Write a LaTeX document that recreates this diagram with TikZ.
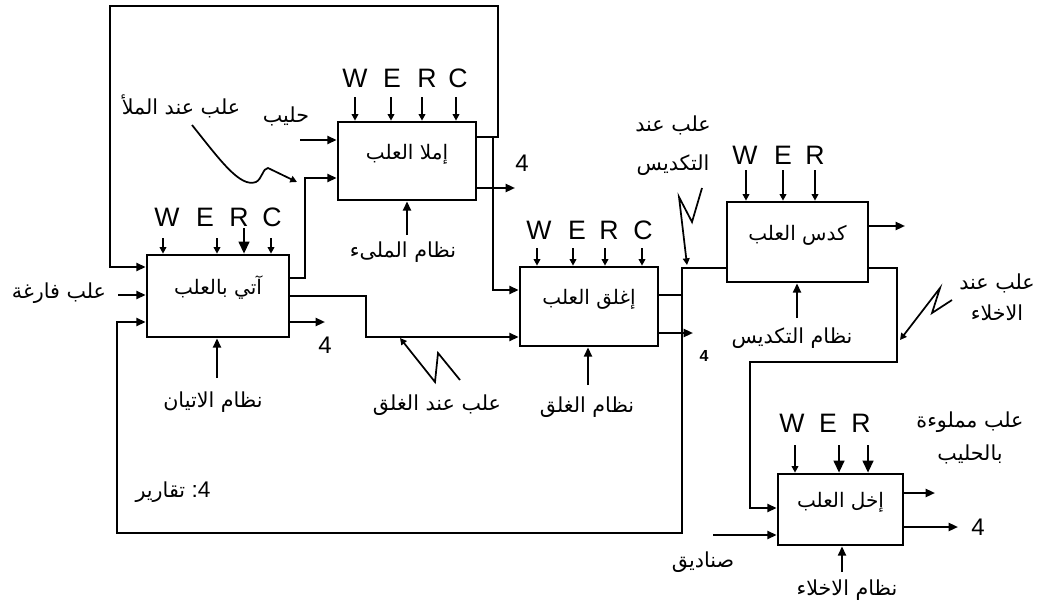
\documentclass[tikz,border=0pt]{standalone}
\usepackage{fontspec}
\setmainfont{Liberation Sans}
\newfontfamily\arabicfont[Script=Arabic]{DejaVu Sans}
\TeXXeTstate=1
\usetikzlibrary{arrows.meta,calc}
\newcommand{\ar}[1]{{\arabicfont\beginR #1\endR}}
\begin{document}
\begin{tikzpicture}[x=0.75pt,y=-0.75pt,
  box/.style={draw,line width=2pt,inner sep=0pt,text height=10pt,text depth=13pt,font=\arabicfont\fontsize{15}{17}\selectfont},
  ln/.style={line width=1.6pt},
  arr/.style={ln,-{Triangle[length=7pt,width=6pt]}},
  sarr/.style={ln,-{Triangle[length=5pt,width=5pt]}},
  barr/.style={ln,-{Triangle[length=9pt,width=8pt]}},
  letr/.style={font=\fontsize{20}{21}\selectfont,inner sep=0pt},
  lab/.style={font=\arabicfont\fontsize{15.5}{18}\selectfont,inner sep=0pt,align=center},
  num/.style={font=\fontsize{18}{20}\selectfont,inner sep=0pt}]
\useasboundingbox[fill=white] (0,0) rectangle (1041,610);

% boxes
\node[box,minimum width=106.5pt,minimum height=61.5pt] (A) at (218,296) {\beginR آتي بالعلب\endR};
\node[box,minimum width=103.5pt,minimum height=58.5pt] (B) at (407,161) {\beginR إملا العلب\endR};
\node[box,minimum width=103.5pt,minimum height=59.25pt] (C) at (589,306.5) {\beginR إغلق العلب\endR};
\node[box,minimum width=105.75pt,minimum height=60pt] (D) at (797.5,242) {\beginR كدس العلب\endR};
\node[box,minimum width=93.75pt,minimum height=53.25pt] (E) at (840.5,509.5) {\beginR إخل العلب\endR};

% W E R C of A
\node[letr] (Aw) at (167,217) {W};
\node[letr] (Ae) at (205,217) {E};
\node[letr] (Ar) at (239,217) {R};
\node[letr] (Ac) at (272,217) {C};
\coordinate (aw) at (163,238); \coordinate (ae) at (217,238);
\coordinate (ar) at (244,228); \coordinate (ac) at (271,238);
\draw[sarr] (aw) -- (aw |- A.north);
\draw[sarr] (ae) -- (ae |- A.north);
\draw[barr] (ar) -- (ar |- A.north);
\draw[sarr] (ac) -- (ac |- A.north);

% W E R C of B
\node[letr] (Bw) at (355,78) {W};
\node[letr] (Be) at (392,78) {E};
\node[letr] (Br) at (427,78) {R};
\node[letr] (Bc) at (458,78) {C};
\coordinate (bw) at (355,97); \coordinate (be) at (391,97);
\coordinate (br) at (422,97); \coordinate (bc) at (456,97);
\draw[sarr] (bw) -- (bw |- B.north);
\draw[sarr] (be) -- (be |- B.north);
\draw[sarr] (br) -- (br |- B.north);
\draw[sarr] (bc) -- (bc |- B.north);

% W E R C of C
\node[letr] (Cw) at (539,230) {W};
\node[letr] (Ce) at (577,230) {E};
\node[letr] (Cr) at (609,230) {R};
\node[letr] (Cc) at (643,230) {C};
\coordinate (cw) at (537,248); \coordinate (ce) at (573,248);
\coordinate (cr) at (605,248); \coordinate (cc) at (642,248);
\draw[sarr] (cw) -- (cw |- C.north);
\draw[sarr] (ce) -- (ce |- C.north);
\draw[sarr] (cr) -- (cr |- C.north);
\draw[sarr] (cc) -- (cc |- C.north);

% W E R of D
\node[letr] (Dw) at (745,155) {W};
\node[letr] (De) at (783,155) {E};
\node[letr] (Dr) at (815,155) {R};
\coordinate (dw) at (746,170); \coordinate (de) at (783,170); \coordinate (dr) at (815,170);
\draw[sarr] (dw) -- (dw |- D.north);
\draw[sarr] (de) -- (de |- D.north);
\draw[sarr] (dr) -- (dr |- D.north);

% W E R of E
\node[letr] (Ew) at (792,423) {W};
\node[letr] (Ee) at (828,423) {E};
\node[letr] (Er) at (861,423) {R};
\coordinate (ew) at (795,445); \coordinate (ee) at (839,445); \coordinate (er) at (868,445);
\draw[sarr] (ew) -- (ew |- E.north);
\draw[barr] (ee) -- (ee |- E.north);
\draw[barr] (er) -- (er |- E.north);

% outer top loop B -> A
\coordinate (o1) at (498,137); \coordinate (o2) at (498,6);
\coordinate (o3) at (110,6); \coordinate (o4) at (110,267);
\draw[arr] (B.east |- o1) -- (o1) -- (o2) -- (o3) -- (o4) -- (o4 -| A.west);

% B -> C
\coordinate (s1) at (493,137); \coordinate (s2) at (493,290);
\draw[arr] (s1) -- (s2) -- (s2 -| C.west);

% B output 4
\coordinate (b4) at (515,188);
\draw[arr] (b4 -| B.east) -- (b4);
\node[num] (nb) at (522,163) {4};

% A -> B
\coordinate (ab1) at (305,278); \coordinate (ab2) at (305,178);
\draw[arr] (A.east |- ab1) -- (ab1) -- (ab2) -- (ab2 -| B.west);

% milk
\node[lab] (milk) at (286,116) {\ar{حليب}};
\coordinate (m1) at (300,140);
\draw[arr] (m1) -- (m1 -| B.west);

% cans at filling
\node[lab] (fill) at (181,106) {\ar{علب عند الملأ}};
\coordinate (f1) at (192,125); \coordinate (f2) at (297,182);
\draw[sarr,line width=1.3pt] (f1) .. controls (220,160) and (240,188) .. (256,182)
  .. controls (262,179) and (263,168) .. (268,168) -- (f2);

% A -> C
\coordinate (ac1) at (366,296); \coordinate (ac2) at (366,337);
\draw[arr] (A.east |- ac1) -- (ac1) -- (ac2) -- (ac2 -| C.west);

% A output 4
\coordinate (a4) at (325,322);
\draw[arr] (A.east |- a4) -- (a4);
\node[num] (na) at (325,345) {4};

% empty cans
\node[lab] (empty) at (59,293) {\ar{علب فارغة}};
\coordinate (e1) at (118,295);
\draw[arr] (e1) -- (e1 -| A.west);

% bottom feedback loop
\coordinate (fb1) at (682,268); \coordinate (fb2) at (682,533);
\coordinate (fb3) at (117,533); \coordinate (fb4) at (117,322);
\draw[arr] (D.west |- fb1) -- (fb1) -- (fb2) -- (fb3) -- (fb4) -- (fb4 -| A.west);
\coordinate (c1) at (682,295);
\draw[ln] (C.east |- c1) -- (c1);
\node[font=\fontsize{17}{18}\selectfont,inner sep=0pt] (rep) at (173,492) {{\arabicfont\fontsize{15.5}{16}\selectfont تقارير} :4};

% C output 4
\coordinate (c4) at (693,333);
\draw[arr] (C.east |- c4) -- (c4);
\node[font=\bfseries\fontsize{12}{12}\selectfont,inner sep=0pt] (nc) at (704,356) {4};

% cans at stacking
\node[lab,font=\arabicfont\fontsize{15.5}{29}\selectfont] (stk) at (673,146) {\ar{علب عند}\\\ar{التكديس}};
\coordinate (z1) at (702,188); \coordinate (z4) at (687,265);
\draw[sarr,line width=1.3pt] (z1) -- (692,222) -- (679,197) -- (z4);

% D outputs
\coordinate (d1) at (905,226);
\draw[arr] (D.east |- d1) -- (d1);
\coordinate (de1) at (897,268); \coordinate (de2) at (897,362);
\coordinate (de3) at (750,362); \coordinate (de4) at (750,508);
\draw[arr] (D.east |- de1) -- (de1) -- (de2) -- (de3) -- (de4) -- (de4 -| E.west);

% cans at withdraw
\node[lab,font=\arabicfont\fontsize{15.5}{23}\selectfont] (wd) at (997,297) {\ar{علب عند}\\\ar{الاخلاء}};
\coordinate (w1) at (952,300); \coordinate (w4) at (900,340);
\draw[sarr,line width=1.3pt] (w1) -- (932,313) -- (940,288) -- (w4);

% D control
\node[lab] (sysS) at (792,338) {\ar{نظام التكديس}};
\coordinate (ds) at (797,318);
\draw[arr] (ds) -- (ds |- D.south);

% E outputs
\coordinate (eo1) at (935,493);
\draw[arr] (E.east |- eo1) -- (eo1);
\coordinate (eo2) at (958,527);
\draw[arr] (E.east |- eo2) -- (eo2);
\node[num] (ne) at (978,527) {4};
\node[lab,font=\arabicfont\fontsize{15.5}{25}\selectfont] (full) at (970,438) {\ar{علب مملوءة}\\\ar{بالحليب}};

% boxes input
\node[lab] (boxes) at (703,562) {\ar{صناديق}};
\coordinate (bx) at (713,535);
\draw[arr] (bx) -- (bx -| E.west);

% E control
\node[lab] (sysW) at (847,590) {\ar{نظام الاخلاء}};
\coordinate (es) at (842,572);
\draw[arr] (es) -- (es |- E.south);

% A control
\node[lab] (sysA) at (213,402) {\ar{نظام الاتيان}};
\coordinate (as) at (217,378);
\draw[arr] (as) -- (as |- A.south);

% B control
\node[lab] (sysB) at (403,252) {\ar{نظام الملىء}};
\coordinate (bs) at (407,235);
\draw[arr] (bs) -- (bs |- B.south);

% C control
\node[lab] (sysC) at (587,407) {\ar{نظام الغلق}};
\coordinate (cs) at (588,385);
\draw[arr] (cs) -- (cs |- C.south);

% cans at gripping
\node[lab] (grip) at (437,405) {\ar{علب عند الغلق}};
\coordinate (g1) at (460,380); \coordinate (g4) at (400,338);
\draw[sarr,line width=1.3pt] (g1) -- (438,353) -- (435,382) -- (g4);
\end{tikzpicture}
\end{document}
